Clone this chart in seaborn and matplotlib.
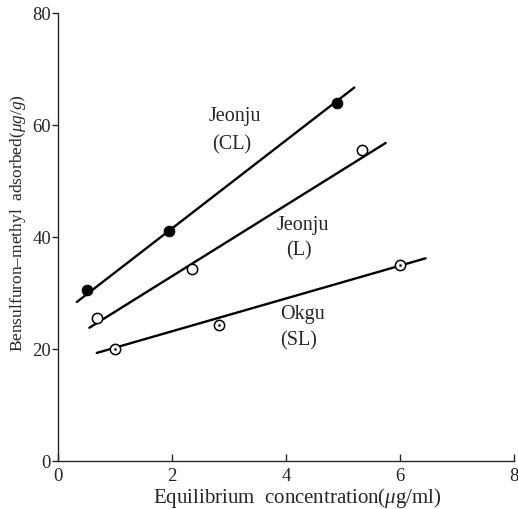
import matplotlib
matplotlib.use("Agg")
import matplotlib.pyplot as plt
import seaborn as sns
import pandas as pd

# Data points
cl_x = [0.5, 1.95, 4.9]
cl_y = [30.5, 41.0, 64.0]
l_x = [0.68, 2.35, 5.33]
l_y = [25.5, 34.3, 55.5]
sl_x = [1.0, 2.83, 6.0]
sl_y = [20.0, 24.3, 35.0]

# Fitted line end points
cl_line_x = [0.33, 5.2]
cl_line_y = [28.4, 66.7]
l_line_x = [0.55, 5.75]
l_line_y = [23.8, 56.8]
sl_line_x = [0.68, 6.45]
sl_line_y = [19.3, 36.2]

x_ticks = [0, 2, 4, 6, 8]
y_ticks = [0, 20, 40, 60, 80]

labels = [("Jeonju", "(CL)"), ("Jeonju", "(L)"), ("Okgu", "(SL)")]
label_pos = [(3.10, 61.5, 56.5), (4.29, 42.0, 37.6), (4.29, 26.2, 21.4)]

sns.set_style("ticks")
plt.rcParams["font.family"] = ["Liberation Serif", "DejaVu Serif"]
plt.rcParams["mathtext.fontset"] = "custom"
plt.rcParams["mathtext.it"] = "Liberation Serif:italic"
plt.rcParams["mathtext.rm"] = "Liberation Serif"

fig = plt.figure(figsize=(5.18, 5.09), dpi=100)
ax = fig.add_axes([0.112, 0.0943, 0.880, 0.880])

for lx, ly in [(cl_line_x, cl_line_y), (l_line_x, l_line_y), (sl_line_x, sl_line_y)]:
    sns.lineplot(x=lx, y=ly, ax=ax, color="black", linewidth=1.7)

sns.scatterplot(x=cl_x, y=cl_y, ax=ax, marker="o", s=60, color="black",
                edgecolor="black", zorder=3)
sns.scatterplot(x=l_x, y=l_y, ax=ax, marker="o", s=55, facecolor="white",
                edgecolor="black", linewidth=1.1, zorder=3)
sns.scatterplot(x=sl_x, y=sl_y, ax=ax, marker="o", s=55, facecolor="white",
                edgecolor="black", linewidth=1.1, zorder=3)
sns.scatterplot(x=sl_x, y=sl_y, ax=ax, marker="o", s=3, color="black",
                edgecolor="black", zorder=4)

for (name, soil), (tx, ty1, ty2) in zip(labels, label_pos):
    ax.text(tx, ty1, name, ha="center", va="center", fontsize=14.5)
    ax.text(tx - 0.06, ty2, soil, ha="center", va="center", fontsize=14.5)

ax.set_xlim(0, 8)
ax.set_ylim(0, 80)
ax.set_xticks(x_ticks)
ax.set_yticks(y_ticks)
ax.tick_params(axis="x", direction="in", length=5, width=1.0, pad=5, labelsize=13.5)
ax.tick_params(axis="y", direction="out", length=4, width=1.0, pad=1, labelsize=13.5)
for s in ["top", "right"]:
    ax.spines[s].set_visible(False)
for s in ["left", "bottom"]:
    ax.spines[s].set_linewidth(1.0)

ax.set_xlabel(r"Equilibrium  concentration($\mathit{\mu}$g/ml)", fontsize=15)
ax.set_ylabel(r"Bensulfuron‒methyl  adsorbed($\mathit{\mu g/g}$)", fontsize=12.5)
ax.xaxis.set_label_coords(0.524, -0.055, transform=ax.transAxes)
ax.xaxis.label.set_va("top")
ax.yaxis.set_label_coords(-0.065, 0.531, transform=ax.transAxes)

fig.savefig("out.png", dpi=100)
